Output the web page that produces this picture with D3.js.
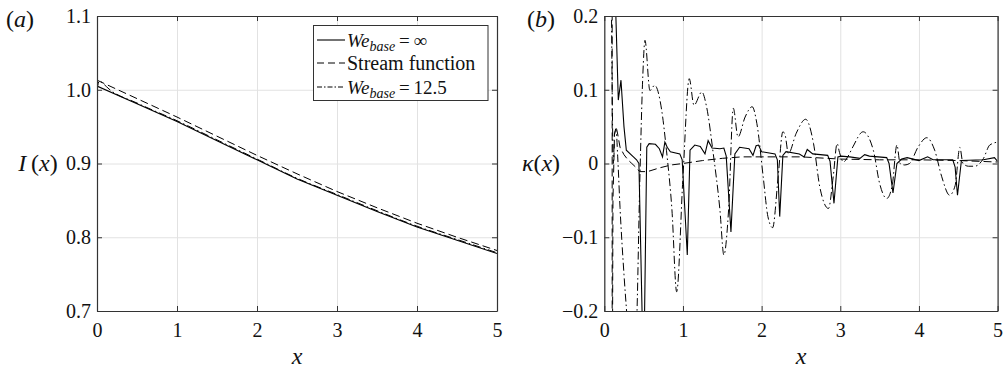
<!DOCTYPE html>
<html>
<head>
<meta charset="utf-8">
<script src="https://cdn.jsdelivr.net/npm/d3@7"></script>
<style>
  body { margin: 0; background: #fff; }
  svg text { fill: #111; }
</style>
</head>
<body>
<div id="container"></div>
<script>
// ---- data ----
// panel (a): I(x)
const iX = [0, 0.5, 1, 1.5, 2, 2.5, 3, 3.5, 4, 4.5, 5];
const iInf = [1.005, 0.981, 0.957, 0.931, 0.905, 0.879, 0.857, 0.835, 0.814, 0.796, 0.778];
const iStream = [1.013, 0.988, 0.963, 0.937, 0.911, 0.886, 0.862, 0.840, 0.819, 0.800, 0.782];
const iWeX = [0, 0.03, 0.08, 0.15, 0.5, 1, 1.5, 2, 2.5, 3, 3.5, 4, 4.5, 5];
const iWe = [1.0, 1.012, 1.008, 1.001, 0.982, 0.958, 0.932, 0.906, 0.880, 0.858, 0.836, 0.815, 0.797, 0.779];

// panel (b): kappa(x)
const kInfX = [0.12, 0.178, 0.212, 0.25, 0.28, 0.37, 0.41, 0.44, 0.5, 0.54, 0.57, 0.65, 0.7, 0.74, 0.77, 0.8, 0.84, 0.96, 0.99, 1.055, 1.09, 1.15, 1.22, 1.28, 1.32, 1.37, 1.47, 1.52, 1.55, 1.61, 1.66, 1.72, 1.84, 1.89, 1.93, 1.96, 2.0, 2.17, 2.2, 2.23, 2.27, 2.31, 2.48, 2.54, 2.58, 2.65, 2.84, 2.87, 2.92, 2.97, 3.01, 3.12, 3.25, 3.31, 3.37, 3.59, 3.62, 3.67, 3.72, 3.78, 3.85, 4.0, 4.11, 4.18, 4.43, 4.46, 4.49, 4.54, 4.82, 4.96, 5.0];
const kInf = [0.3, 0.086, 0.113, 0.05, 0.018, 0.009, 0.005, 0.0, -0.3, 0.022, 0.027, 0.026, 0.02, 0.009, 0.029, 0.022, 0.016, 0.013, 0.005, -0.124, 0.018, 0.025, 0.023, 0.013, 0.031, 0.021, 0.02, 0.021, 0.01, -0.093, 0.013, 0.022, 0.02, 0.011, 0.024, 0.025, 0.016, 0.013, 0.005, -0.072, 0.011, 0.016, 0.013, 0.009, 0.019, 0.013, 0.011, 0.003, -0.054, 0.009, 0.01, 0.009, 0.007, 0.012, 0.01, 0.008, 0.0, -0.04, 0.0, 0.006, 0.008, 0.004, 0.009, 0.005, 0.005, -0.005, -0.043, 0.004, 0.005, 0.008, 0.003];

const kStreamX = [0.1, 0.1, 0.11, 0.13, 0.15, 0.17, 0.2, 0.25, 0.3, 0.35, 0.4, 0.45, 0.55, 0.7, 0.85, 1.0, 1.25, 1.5, 1.75, 2.0, 2.5, 3.0, 3.5, 4.0, 4.5, 5.0];
const kStream = [0.4, -0.4, -0.05, 0.04, 0.05, 0.04, 0.022, 0.012, 0.005, 0.0, -0.005, -0.011, -0.011, -0.006, -0.002, 0.0, 0.004, 0.007, 0.009, 0.009, 0.009, 0.006, 0.005, 0.005, 0.004, 0.002];

const kWeX = [0.085, 0.1, 0.115, 0.13, 0.15, 0.17, 0.2, 0.25, 0.29, 0.35, 0.41, 0.45, 0.49, 0.517, 0.58, 0.64, 0.73, 0.79, 0.86, 0.92, 1.0, 1.08, 1.14, 1.24, 1.30, 1.385, 1.47, 1.52, 1.58, 1.64, 1.70, 1.79, 1.88, 1.94, 2.02, 2.08, 2.14, 2.21, 2.27, 2.30, 2.34, 2.44, 2.56, 2.66, 2.74, 2.85, 2.91, 2.96, 2.99, 3.04, 3.1, 3.16, 3.29, 3.42, 3.50, 3.59, 3.66, 3.72, 3.76, 3.82, 3.88, 3.99, 4.10, 4.20, 4.29, 4.39, 4.46, 4.52, 4.56, 4.63, 4.71, 4.82, 4.90, 5.0];
const kWe = [0.3, 0.1, 0.0, 0.04, 0.045, 0.01, -0.06, -0.15, -0.21, -0.3, -0.22, -0.03, 0.12, 0.167, 0.099, 0.106, 0.072, 0.018, -0.063, -0.174, -0.018, 0.115, 0.079, 0.097, 0.077, 0.0136, -0.063, -0.124, -0.063, 0.075, 0.036, 0.063, 0.077, 0.054, -0.018, -0.072, -0.087, -0.018, 0.043, 0.038, 0.0136, 0.041, 0.06, 0.027, -0.032, -0.061, -0.018, 0.027, 0.015, 0.002, 0.01, 0.0225, 0.043, 0.018, -0.027, -0.0475, -0.03, 0.025, 0.0, -0.002, 0.0, 0.0225, 0.035, 0.018, -0.018, -0.043, -0.03, 0.0217, 0.0, -0.0037, -0.0037, 0.0068, 0.025, 0.029];

const xTicks = [0, 1, 2, 3, 4, 5];
const iTicks = [0.7, 0.8, 0.9, 1.0, 1.1];
const kTicks = [-0.2, -0.1, 0, 0.1, 0.2];
const legendLabels = ["We", "Stream function", "We"];

// ---- chart ----
const width = 1005, height = 370;
const plotTop = 16, plotBottom = 311;
const serif = 'Liberation Serif, Tinos, Times New Roman, Times, Nimbus Roman, FreeSerif, Noto Serif, DejaVu Serif, serif';

const svg = d3.select('#container')
  .append('svg')
  .attr('width', width)
  .attr('height', height)
  .style('font-family', serif);

const styles = {
  solid: {dash: null, w: 1.1},
  dashed: {dash: '8,4', w: 1},
  dashdot: {dash: '8,3,1.5,3', w: 1}
};

function panel(id, x0, x1, ydom, yTicks, yFmt) {
  const x = d3.scaleLinear().domain([0, 5]).range([x0, x1]);
  const y = d3.scaleLinear().domain(ydom).range([plotBottom, plotTop]);
  const g = svg.append('g');

  // grid
  g.append('g').attr('transform', `translate(0,${plotBottom})`)
    .call(d3.axisBottom(x).tickValues(xTicks).tickSize(-(plotBottom - plotTop)).tickFormat(''))
    .call(s => s.select('.domain').remove())
    .call(s => s.selectAll('line').attr('stroke', '#e2e2e2'));
  g.append('g').attr('transform', `translate(${x0},0)`)
    .call(d3.axisLeft(y).tickValues(yTicks).tickSize(-(x1 - x0)).tickFormat(''))
    .call(s => s.select('.domain').remove())
    .call(s => s.selectAll('line').attr('stroke', '#e2e2e2'));

  svg.append('clipPath').attr('id', id)
    .append('rect').attr('x', x0).attr('y', plotTop).attr('width', x1 - x0).attr('height', plotBottom - plotTop);

  const plot = g.append('g').attr('clip-path', `url(#${id})`);

  // frame + ticks
  const frame = (sel) => {
    sel.attr('font-family', null).attr('font-size', null);
    sel.selectAll('text').style('font-family', serif).style('font-size', '20px').attr('fill', '#111');
    sel.selectAll('.domain').attr('stroke', '#333').attr('stroke-width', 1.2);
    sel.selectAll('.tick line').attr('stroke', '#333');
  };
  g.append('g').attr('transform', `translate(0,${plotBottom})`)
    .call(d3.axisBottom(x).tickValues(xTicks).tickSizeInner(-5).tickSizeOuter(0).tickPadding(12).tickFormat(d3.format('d')))
    .call(frame);
  g.append('g').attr('transform', `translate(0,${plotTop})`)
    .call(d3.axisTop(x).tickValues(xTicks).tickSizeInner(-5).tickSizeOuter(0).tickFormat(''))
    .call(frame);
  g.append('g').attr('transform', `translate(${x0},0)`)
    .call(d3.axisLeft(y).tickValues(yTicks).tickSizeInner(-5).tickSizeOuter(0).tickPadding(6).tickFormat(yFmt))
    .call(frame);
  g.append('g').attr('transform', `translate(${x1},0)`)
    .call(d3.axisRight(y).tickValues(yTicks).tickSizeInner(-5).tickSizeOuter(0).tickFormat(''))
    .call(frame);

  return {x, y, plot};
}

function drawLine(p, xs, ys, style, curve) {
  const line = d3.line()
    .x((d, i) => p.x(xs[i]))
    .y(d => p.y(d))
    .curve(curve || d3.curveLinear);
  p.plot.append('path')
    .datum(ys)
    .attr('d', line)
    .attr('fill', 'none')
    .attr('stroke', '#000')
    .attr('stroke-width', styles[style].w)
    .attr('stroke-dasharray', styles[style].dash);
}

// panel (a)
const pa = panel('clipA', 97, 497, [0.7, 1.1], iTicks, d3.format('.1f'));
drawLine(pa, iWeX, iWe, 'dashdot', d3.curveMonotoneX);
drawLine(pa, iX, iStream, 'dashed');
drawLine(pa, iX, iInf, 'solid');

// panel (b)
const kFmt = d => d === 0 ? '0' : d3.format('.1f')(d).replace('-', '\u2212');
const pb = panel('clipB', 604.3, 997.6, [-0.2, 0.2], kTicks, kFmt);
drawLine(pb, kStreamX, kStream, 'dashed');
drawLine(pb, kWeX, kWe, 'dashdot', d3.curveMonotoneX);
drawLine(pb, kInfX, kInf, 'solid');

// labels
const lab = (x, y, anchor) => svg.append('text')
  .attr('x', x).attr('y', y).attr('text-anchor', anchor)
  .style('font-family', serif)
  .style('font-size', '24px');

function paren(x, y, letter) {
  const t = lab(x, y, 'start');
  t.append('tspan').text('(');
  t.append('tspan').style('font-style', 'italic').text(letter);
  t.append('tspan').text(')');
}
paren(6, 27, 'a');
paren(527, 27, 'b');

const il = lab(38, 171, 'middle');
il.append('tspan').style('font-style', 'italic').text('I');
il.append('tspan').text('\u2009(');
il.append('tspan').style('font-style', 'italic').text('x');
il.append('tspan').text(')');

const kl = lab(541, 171, 'middle');
kl.append('tspan').style('font-style', 'italic').text('\u03ba');
kl.append('tspan').text('(');
kl.append('tspan').style('font-style', 'italic').text('x');
kl.append('tspan').text(')');

lab(297, 364, 'middle').style('font-style', 'italic').text('x');
lab(801, 364, 'middle').style('font-style', 'italic').text('x');

// legend
const lg = svg.append('g');
lg.append('rect')
  .attr('x', 313.5).attr('y', 25.5).attr('width', 174.5).attr('height', 75)
  .attr('fill', '#fff').attr('stroke', '#333').attr('stroke-width', 1);

const rows = [
  {style: 'solid', y: 40},
  {style: 'dashed', y: 63},
  {style: 'dashdot', y: 87}
];
rows.forEach((r, i) => {
  lg.append('line')
    .attr('x1', 317).attr('x2', 345).attr('y1', r.y).attr('y2', r.y)
    .attr('stroke', '#000').attr('stroke-width', styles[r.style].w)
    .attr('stroke-dasharray', r.style === 'dashdot' ? '5,2,1.5,2' : r.style === 'dashed' ? '7,4' : null);
  const t = lg.append('text').attr('x', 347).attr('y', r.y + 7)
    .style('font-family', serif).style('font-size', '19px');
  if (i === 1) {
    t.style('font-size', '20px').text(legendLabels[i]);
  } else {
    t.append('tspan').style('font-style', 'italic').text(legendLabels[i]);
    t.append('tspan').style('font-style', 'italic').style('font-size', '14px').attr('dy', 4).text('base');
    t.append('tspan').attr('dy', -4).text(i === 0 ? '\u2009=\u2009\u221e' : '\u2009=\u200912.5');
  }
});
</script>
</body>
</html>
